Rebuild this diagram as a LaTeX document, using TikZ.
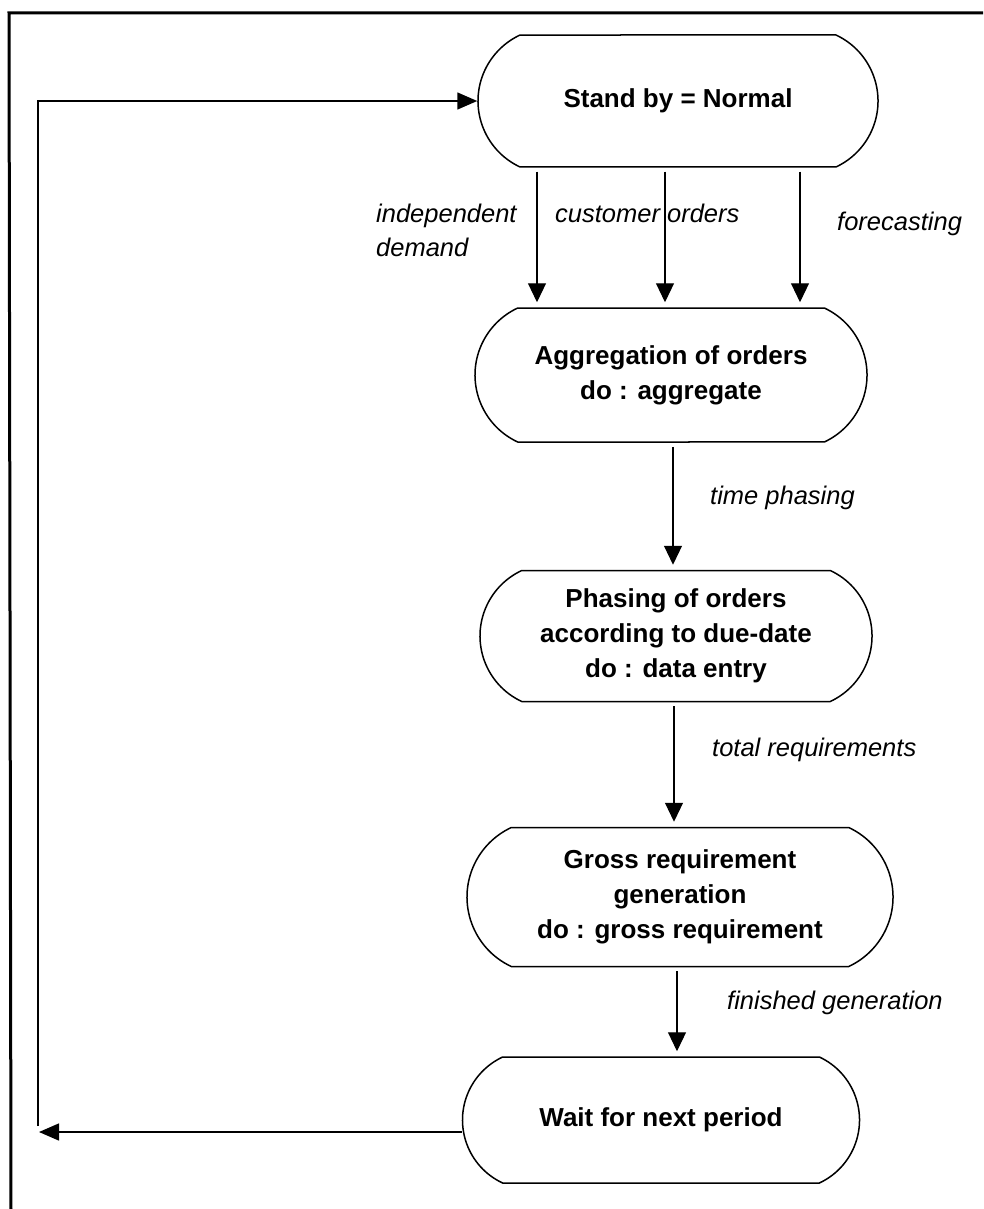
\documentclass[tikz,border=0pt]{standalone}
\usepackage{fontspec}
\setmainfont{Liberation Sans}
\usetikzlibrary{arrows.meta,shapes.misc}
\begin{document}
\begin{tikzpicture}[x=1pt,y=1pt,
  state/.style={draw, line width=1.5pt, rounded rectangle,
    rounded rectangle arc length=130, align=center, inner sep=0pt,
    font=\bfseries\fontsize{26}{35}\selectfont},
  flow/.style={line width=1.1pt, -{Triangle[length=19pt,width=18pt]},
    shorten >=5pt, shorten <=4pt},
  lbl/.style={anchor=west, inner sep=0pt, align=left,
    font=\itshape\fontsize{25.5}{34}\selectfont}]
\useasboundingbox (0,0) rectangle (983,-1209);

% outer frame (top and left edges)
\draw[line width=3pt] (983,-13) -- (9,-13) -- (11,-1209);

% states
\node[state, minimum width=400, minimum height=132] (standby) at (678,-101) {Stand by = Normal};
\node[state, minimum width=392, minimum height=134] (agg) at (671,-375) {Aggregation of orders\\do : aggregate};
\node[state, minimum width=392, minimum height=131] (phase) at (676,-636) {Phasing of orders\\according to due-date\\do : data entry};
\node[state, minimum width=426, minimum height=139] (gross) at (680,-897) {Gross requirement\\generation\\do : gross requirement};
\node[state, minimum width=397, minimum height=126] (wait) at (661,-1120) {Wait for next period};

% demand inputs
\draw[flow] (standby.south -| 537,0) -- (agg.north -| 537,0);
\draw[flow] (standby.south -| 665,0) -- (agg.north -| 665,0);
\draw[flow] (standby.south -| 800,0) -- (agg.north -| 800,0);
\node[lbl] (indep) at (376,-230) {independent\\demand};
\node[lbl] (cust) at (555,-213) {customer orders};
\node[lbl] (fore) at (837,-224) {forecasting};

% main sequence
\draw[flow] (agg.south -| 673,0) -- (phase.north -| 673,0);
\node[lbl] (tphase) at (710,-498) {time phasing};
\draw[flow] (phase.south -| 674,0) -- (gross.north -| 674,0);
\node[lbl] (treq) at (712,-750) {total requirements};
\draw[flow] (gross.south -| 677,0) -- (wait.north -| 677,0);
\node[lbl] (fgen) at (727,-1003) {finished generation};

% return loop to stand by
\coordinate (retend) at (39,-1132);
\coordinate (retup) at (38,-1126);
\draw[line width=1.5pt, -{Triangle[length=20pt,width=17pt]}] (wait.west |- retend) -- (retend);
\draw[line width=1.5pt, -{Triangle[length=20pt,width=17pt]}] (retup) -- (retup |- standby.west) -- (standby.west);
\end{tikzpicture}
\end{document}
